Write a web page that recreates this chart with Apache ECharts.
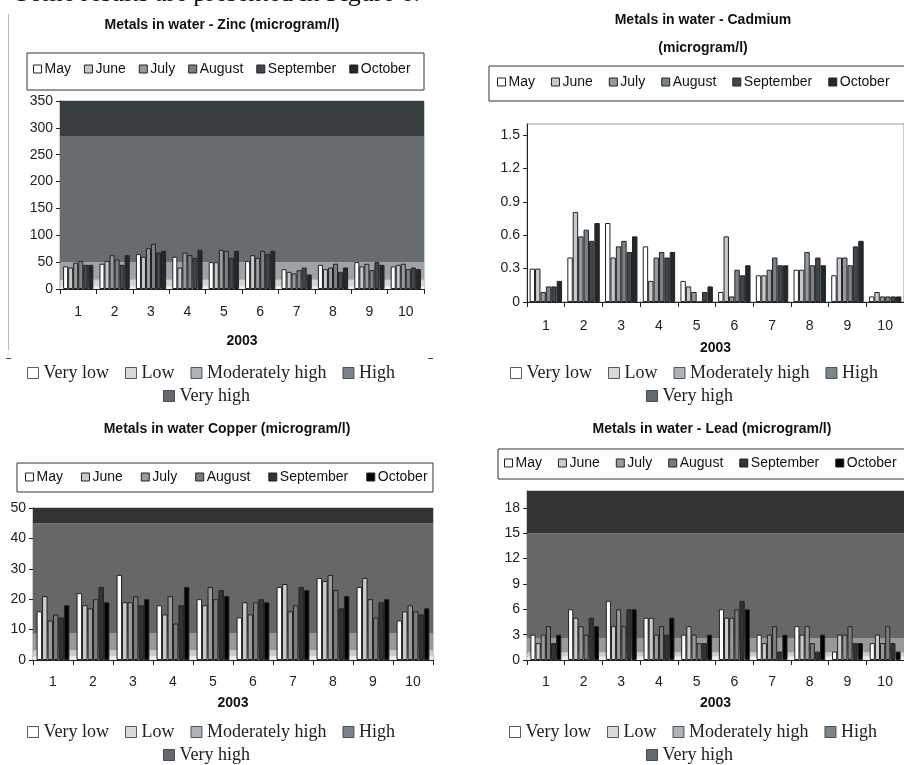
<!DOCTYPE html>
<html>
<head>
<meta charset="utf-8">
<script src="https://cdn.jsdelivr.net/npm/echarts@6/dist/echarts.min.js"></script>
<style>
  html, body { margin: 0; padding: 0; background: #fff; }
  #chart { width: 904px; height: 765px; }
</style>
</head>
<body>
<div id="chart"></div>
<script>
var groups = ['1', '2', '3', '4', '5', '6', '7', '8', '9', '10'];
var months = ['May', 'June', 'July', 'August', 'September', 'October'];
var bandNames = ['Very low', 'Low', 'Moderately high', 'High', 'Very high'];

// one row per month, one value per group
var zincData = [
  [42, 47, 65, 60, 50, 52, 37, 45, 50, 42],
  [40, 52, 60, 40, 50, 63, 32, 37, 42, 45],
  [49, 63, 76, 68, 73, 58, 29, 40, 47, 47],
  [52, 55, 84, 63, 71, 71, 35, 47, 35, 37],
  [45, 45, 68, 58, 58, 65, 40, 32, 50, 40],
  [45, 63, 71, 73, 71, 71, 27, 40, 45, 37]
];
var cadmiumData = [
  [0.3, 0.4, 0.71, 0.5, 0.19, 0.09, 0.24, 0.29, 0.24, 0.05],
  [0.3, 0.81, 0.4, 0.19, 0.14, 0.59, 0.24, 0.29, 0.4, 0.09],
  [0.09, 0.59, 0.5, 0.4, 0.09, 0.05, 0.29, 0.45, 0.4, 0.05],
  [0.14, 0.65, 0.55, 0.45, 0, 0.29, 0.4, 0.33, 0.33, 0.05],
  [0.14, 0.55, 0.45, 0.4, 0.09, 0.24, 0.33, 0.4, 0.5, 0.05],
  [0.19, 0.71, 0.59, 0.45, 0.14, 0.33, 0.33, 0.33, 0.55, 0.05]
];
var copperData = [
  [16, 22, 28, 18, 20, 14, 24, 27, 24, 13],
  [21, 18, 19, 15, 18, 19, 25, 26, 27, 16],
  [13, 17, 19, 21, 24, 15, 16, 28, 20, 18],
  [15, 20, 21, 12, 20, 19, 18, 23, 14, 16],
  [14, 24, 18, 18, 23, 20, 24, 17, 19, 15],
  [18, 19, 20, 24, 21, 19, 23, 21, 20, 17]
];
var leadData = [
  [3, 6, 7, 5, 3, 6, 3, 4, 1, 2],
  [2, 5, 4, 5, 4, 5, 2, 3, 3, 3],
  [3, 4, 6, 3, 3, 5, 3, 4, 3, 2],
  [4, 3, 4, 4, 2, 6, 4, 2, 4, 4],
  [2, 5, 6, 3, 2, 7, 1, 1, 2, 2],
  [3, 4, 6, 5, 3, 6, 3, 3, 2, 1]
];

// class limits (background bands)
var zincBands = [0, 5, 17, 50, 285, 350];
var copperBands = [0, 1.2, 3.2, 8.7, 45, 50];
var leadBands = [0, 0.4, 0.9, 2.6, 15, 20];

var slateMonths = ['#ffffff', '#c6c9cb', '#969b9f', '#7a8287', '#3e474c', '#24282a'];
var greyMonths = ['#ffffff', '#cbcbcb', '#9a9a9a', '#7c7c7c', '#333333', '#000000'];
var slateBands = ['#ececec', '#d3d5d7', '#9ea2a5', '#676c70', '#393e41'];
var greyBands = ['#ececec', '#cccccc', '#999999', '#676767', '#333333'];
var legendBandColors = ['#ffffff', '#d0d0d0', '#9a9ea2', '#5d676c', '#3a454b'];

var sans = 'Arial, "Liberation Sans", sans-serif';
var serif = '"Times New Roman", "Liberation Serif", serif';

var option = {
  animation: false,
  backgroundColor: '#fff',
  title: [],
  legend: [],
  grid: [],
  xAxis: [],
  yAxis: [],
  series: [],
  graphic: []
};

function addChart(cfg) {
  var i = option.grid.length;
  option.grid.push({
    left: cfg.grid[0], top: cfg.grid[1], width: cfg.grid[2], height: cfg.grid[3],
    show: true, borderColor: '#9a9a9a', borderWidth: 1, backgroundColor: 'transparent'
  });
  option.title.push({
    text: cfg.title, left: cfg.titleX, top: cfg.titleY, textAlign: 'center',
    textStyle: { fontFamily: sans, fontSize: 14, fontWeight: 'bold', color: '#111', lineHeight: cfg.titleLH }
  });
  option.xAxis.push({
    type: 'category', data: groups, gridIndex: i,
    name: '2003', nameLocation: 'middle', nameGap: cfg.nameGap,
    nameTextStyle: { fontFamily: sans, fontSize: 14, fontWeight: 'bold', color: '#111' },
    axisLine: { lineStyle: { color: '#222', width: 1 } },
    axisTick: { show: true, length: 5, lineStyle: { color: '#222' } },
    axisLabel: { fontFamily: sans, fontSize: 14, color: '#222', margin: cfg.labelMargin },
    splitLine: { show: false }
  });
  option.yAxis.push({
    type: 'value', gridIndex: i, min: 0, max: cfg.max, interval: cfg.interval,
    axisLine: { show: true, lineStyle: { color: '#222', width: 1 } },
    axisTick: { show: true, length: 4, lineStyle: { color: '#222' } },
    axisLabel: { fontFamily: sans, fontSize: 14, color: '#222', margin: 7, showMaxLabel: cfg.showMax },
    splitLine: { show: false }
  });
  months.forEach(function (m, k) {
    option.series.push({
      name: m, type: 'bar', xAxisIndex: i, yAxisIndex: i,
      data: cfg.data[k],
      barGap: '0%', barCategoryGap: cfg.catGap,
      itemStyle: { color: cfg.monthColors[k], borderColor: '#222', borderWidth: 1 }
    });
  });
  bandNames.forEach(function (b, k) {
    var s = {
      name: b, type: 'scatter', xAxisIndex: i, yAxisIndex: i, data: [],
      itemStyle: { color: legendBandColors[k] }
    };
    if (cfg.bands) {
      s.markArea = {
        silent: true,
        data: [[
          { yAxis: cfg.bands[k], itemStyle: { color: cfg.bandColors[k], opacity: 1, borderWidth: 0 } },
          { yAxis: cfg.bands[k + 1] }
        ]]
      };
    }
    option.series.push(s);
  });
  // month legend inside a framed box
  option.graphic.push({
    type: 'rect', shape: { x: cfg.box[0], y: cfg.box[1], width: cfg.box[2], height: cfg.box[3] },
    style: { fill: 'none', stroke: '#333', lineWidth: 1 }, silent: true
  });
  option.legend.push({
    data: months.map(function (m, k) {
      return { name: m, icon: 'rect', itemStyle: { color: cfg.monthColors[k] } };
    }),
    left: cfg.legendX, top: cfg.legendY, padding: 0, itemGap: cfg.legendGap,
    itemWidth: 8, itemHeight: 8,
    itemStyle: { borderColor: '#222', borderWidth: 1 },
    textStyle: { fontFamily: sans, fontSize: 14, color: '#111', padding: [0, 0, 0, -2] },
    selectedMode: false
  });
  // class legend in two rows
  option.legend.push({
    data: bandNames.slice(0, 4).map(function (b, k) {
      return { name: b, icon: 'rect', itemStyle: { color: legendBandColors[k] } };
    }),
    left: cfg.bandLegendX, top: cfg.bandLegendY, padding: 0, itemGap: 16,
    itemWidth: 11, itemHeight: 11,
    itemStyle: { borderColor: '#333', borderWidth: 1 },
    textStyle: { fontFamily: serif, fontSize: 18, color: '#222' },
    selectedMode: false
  });
  option.legend.push({
    data: [{ name: bandNames[4], icon: 'rect', itemStyle: { color: legendBandColors[4] } }],
    left: cfg.bandLegendX2, top: cfg.bandLegendY + 23, padding: 0,
    itemWidth: 11, itemHeight: 11,
    itemStyle: { borderColor: '#333', borderWidth: 1 },
    textStyle: { fontFamily: serif, fontSize: 18, color: '#222' },
    selectedMode: false
  });
}

addChart({
  title: 'Metals in water - Zinc (microgram/l)', titleX: 217, titleY: 12, titleLH: 16,
  grid: [60, 101, 364, 188], max: 350, interval: 50, showMax: true,
  data: zincData, monthColors: slateMonths, bands: zincBands, bandColors: slateBands,
  catGap: '17%', nameGap: 45, labelMargin: 16,
  box: [27, 53, 397, 37], legendX: 33, legendY: 62, legendGap: 13,
  bandLegendX: 27, bandLegendY: 364, bandLegendX2: 163
});
addChart({
  title: 'Metals in water - Cadmium\n(microgram/l)', titleX: 698, titleY: 1, titleLH: 28,
  grid: [527, 124, 384, 178], max: 1.6, interval: 0.3, showMax: false,
  data: cadmiumData, monthColors: slateMonths, bands: null, bandColors: null,
  catGap: '14%', nameGap: 39, labelMargin: 17,
  box: [489, 66, 430, 35], legendX: 497, legendY: 75, legendGap: 16,
  bandLegendX: 510, bandLegendY: 364, bandLegendX2: 646
});
addChart({
  title: 'Metals in water Copper (microgram/l)', titleX: 222, titleY: 416, titleLH: 16,
  grid: [33, 508, 400, 152], max: 50, interval: 10, showMax: true,
  data: copperData, monthColors: greyMonths, bands: copperBands, bandColors: greyBands,
  catGap: '18%', nameGap: 36, labelMargin: 15,
  box: [17, 463, 416, 29], legendX: 25, legendY: 470, legendGap: 18,
  bandLegendX: 27, bandLegendY: 723, bandLegendX2: 163
});
addChart({
  title: 'Metals in water - Lead (microgram/l)', titleX: 707, titleY: 416, titleLH: 16,
  grid: [527, 491, 380, 169], max: 20, interval: 3, showMax: false,
  data: leadData, monthColors: greyMonths, bands: leadBands, bandColors: greyBands,
  catGap: '18%', nameGap: 36, labelMargin: 15,
  box: [498, 449, 420, 30], legendX: 504, legendY: 456, legendGap: 16,
  bandLegendX: 509, bandLegendY: 723, bandLegendX2: 646
});

// running text of the page, cut at the top, and the zinc chart frame
option.graphic.push({
  type: 'text', left: 15, top: -19, silent: true,
  style: { text: 'Some results are presented in Figure 6.', font: '26px ' + serif, fill: '#111' }
});
option.graphic.push({
  type: 'line', shape: { x1: 8.5, y1: 14, x2: 8.5, y2: 350 }, style: { stroke: '#bbb', lineWidth: 1 }, silent: true
});
option.graphic.push({
  type: 'line', shape: { x1: 6, y1: 358.5, x2: 11, y2: 358.5 }, style: { stroke: '#444', lineWidth: 1 }, silent: true
});
option.graphic.push({
  type: 'line', shape: { x1: 428, y1: 358.5, x2: 433, y2: 358.5 }, style: { stroke: '#444', lineWidth: 1 }, silent: true
});

var myChart = echarts.init(document.getElementById('chart'));
myChart.setOption(option);
</script>
</body>
</html>
